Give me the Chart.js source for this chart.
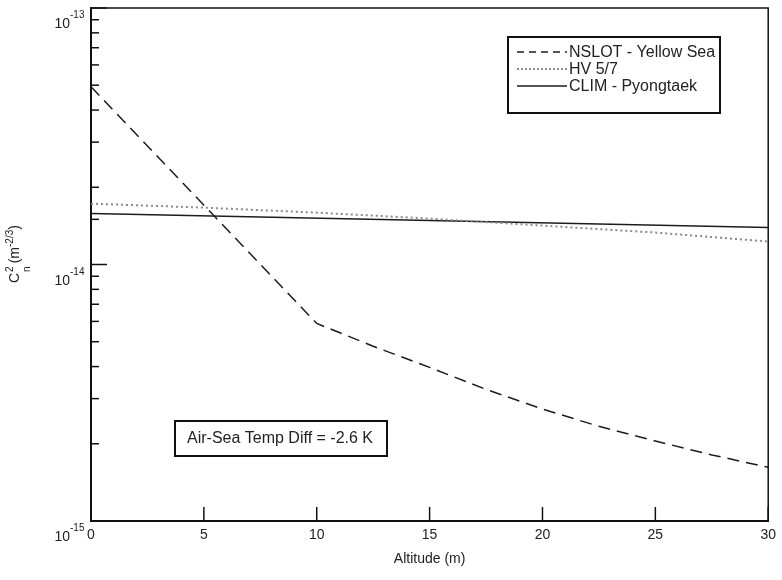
<!DOCTYPE html>
<html>
<head>
<meta charset="utf-8">
<script src="https://cdn.jsdelivr.net/npm/chart.js@4.4.1/dist/chart.umd.min.js"></script>
<style>
  body { margin: 0; background: #fff; }
  #wrap { width: 782px; height: 580px; }
</style>
</head>
<body>
<div id="wrap"><canvas id="chart" width="782" height="580"></canvas></div>
<script>
// altitude (m) and Cn2 (m^-2/3)
const nslotAlt = [0, 10, 12.5, 15, 17.5, 20, 22.5, 25, 27.5, 30];
const nslotCn2 = [4.93e-14, 5.89e-15, 4.8e-15, 3.97e-15, 3.26e-15, 2.73e-15, 2.34e-15, 2.05e-15, 1.81e-15, 1.62e-15];

const hvAlt = [0, 5, 10, 15, 20, 25, 30];
const hvCn2 = [1.727e-14, 1.666e-14, 1.593e-14, 1.51e-14, 1.418e-14, 1.332e-14, 1.229e-14];

const climAlt = [0, 15, 30];
const climCn2 = [1.579e-14, 1.483e-14, 1.393e-14];

const seriesLabels = ["NSLOT - Yellow Sea", "HV 5/7", "CLIM - Pyongtaek"];
const annotationText = "Air-Sea Temp Diff = -2.6 K";

const FONT = "'Liberation Sans', Arial, sans-serif";

function toPoints(xs, ys) {
    return xs.map((x, i) => ({ x: x, y: ys[i] }));
}

// extra drawing: frame, inward ticks, decade labels, legend, note, y title
const decorPlugin = {
    id: "decor",
    afterDraw(chart) {
        const ctx = chart.ctx;
        const area = chart.chartArea;
        const xs = chart.scales.x;
        const ys = chart.scales.y;
        ctx.save();

        // top and right frame
        ctx.strokeStyle = "#111";
        ctx.lineWidth = 1.5;
        ctx.beginPath();
        ctx.moveTo(area.left, area.top);
        ctx.lineTo(area.right, area.top);
        ctx.lineTo(area.right, area.bottom);
        ctx.stroke();

        // inward ticks on x
        ctx.lineWidth = 1.5;
        xs.ticks.forEach((t) => {
            if (t.value <= xs.min) return;
            const px = xs.getPixelForValue(t.value);
            ctx.beginPath();
            ctx.moveTo(px, area.bottom);
            ctx.lineTo(px, area.bottom - 14);
            ctx.stroke();
        });

        // inward ticks on y, decade labels with superscripts
        ys.ticks.forEach((t) => {
            const py = ys.getPixelForValue(t.value);
            const e = Math.log10(t.value);
            const decade = Math.abs(e - Math.round(e)) < 1e-6;
            ctx.lineWidth = 1.5;
            ctx.beginPath();
            ctx.moveTo(area.left, py);
            ctx.lineTo(area.left + (decade ? 16 : 8), py);
            ctx.stroke();
            if (decade) {
                ctx.fillStyle = "#222";
                ctx.font = "14px " + FONT;
                ctx.textAlign = "right";
                ctx.textBaseline = "alphabetic";
                ctx.fillText("10", 70, py + 20);
                ctx.font = "10px " + FONT;
                ctx.textAlign = "left";
                ctx.fillText(String(Math.round(e)), 70, py + 10);
            }
        });

        // legend
        const lx = 508, ly = 37, lw = 212, lh = 76;
        ctx.lineWidth = 2;
        ctx.strokeStyle = "#111";
        ctx.strokeRect(lx, ly, lw, lh);
        const rows = [52, 69, 86];
        const legendDash = [[7, 5], [2, 2], []];
        chart.data.datasets.forEach((ds, i) => {
            ctx.strokeStyle = ds.borderColor;
            ctx.lineWidth = ds.borderWidth;
            ctx.setLineDash(legendDash[i]);
            ctx.beginPath();
            ctx.moveTo(517, rows[i]);
            ctx.lineTo(567, rows[i]);
            ctx.stroke();
            ctx.setLineDash([]);
            ctx.fillStyle = "#222";
            ctx.font = "16px " + FONT;
            ctx.textAlign = "left";
            ctx.textBaseline = "middle";
            ctx.fillText(ds.label, 569, rows[i] + 1);
        });

        // annotation box
        ctx.lineWidth = 2;
        ctx.strokeStyle = "#111";
        ctx.strokeRect(175, 421, 212, 35);
        ctx.fillStyle = "#222";
        ctx.font = "16px " + FONT;
        ctx.textAlign = "center";
        ctx.textBaseline = "middle";
        ctx.fillText(annotationText, 280, 439);

        // rotated y title: C_n^2 (m^-2/3)
        ctx.translate(19, 283);
        ctx.rotate(-Math.PI / 2);
        ctx.textAlign = "left";
        ctx.textBaseline = "alphabetic";
        let x = 0;
        ctx.font = "14px " + FONT;
        ctx.fillText("C", x, 0);
        x += ctx.measureText("C").width + 1;
        ctx.font = "10px " + FONT;
        ctx.fillText("2", x, -6);
        ctx.fillText("n", x, 11);
        x += ctx.measureText("n").width + 3;
        ctx.font = "14px " + FONT;
        ctx.fillText("(m", x, 0);
        x += ctx.measureText("(m").width;
        ctx.font = "10px " + FONT;
        ctx.fillText("-2/3", x, -6);
        x += ctx.measureText("-2/3").width;
        ctx.font = "14px " + FONT;
        ctx.fillText(")", x, 0);

        ctx.restore();
    }
};

const chart = new Chart(document.getElementById("chart").getContext("2d"), {
    type: "line",
    data: {
        datasets: [
            {
                label: seriesLabels[0],
                data: toPoints(nslotAlt, nslotCn2),
                borderColor: "#1c1c1c",
                borderWidth: 1.5,
                borderDash: [12, 7],
                pointRadius: 0,
                tension: 0
            },
            {
                label: seriesLabels[1],
                data: toPoints(hvAlt, hvCn2),
                borderColor: "#8a8a8a",
                borderWidth: 2,
                borderDash: [2, 3],
                pointRadius: 0
            },
            {
                label: seriesLabels[2],
                data: toPoints(climAlt, climCn2),
                borderColor: "#1c1c1c",
                borderWidth: 1.5,
                pointRadius: 0
            }
        ]
    },
    options: {
        responsive: false,
        animation: false,
        layout: { padding: { top: 8, right: 11, left: 0, bottom: 0 } },
        plugins: { legend: { display: false }, tooltip: { enabled: false } },
        scales: {
            x: {
                type: "linear",
                min: 0,
                max: 30,
                ticks: { stepSize: 5, padding: 6, maxRotation: 0, color: "#222", font: { family: FONT, size: 14 } },
                grid: { display: false, drawTicks: false },
                border: { display: true, color: "#111", width: 2 },
                title: { display: true, text: "Altitude (m)", color: "#222", font: { family: FONT, size: 14 }, padding: { top: 4, bottom: 12 } },
                afterFit(scale) { scale.height = 59; }
            },
            y: {
                type: "logarithmic",
                min: 1e-15,
                max: 1e-13,
                ticks: { display: false, autoSkip: false },
                grid: { display: false, drawTicks: false },
                border: { display: true, color: "#111", width: 2 },
                afterFit(scale) { scale.width = 91; }
            }
        }
    },
    plugins: [decorPlugin]
});
</script>
</body>
</html>
